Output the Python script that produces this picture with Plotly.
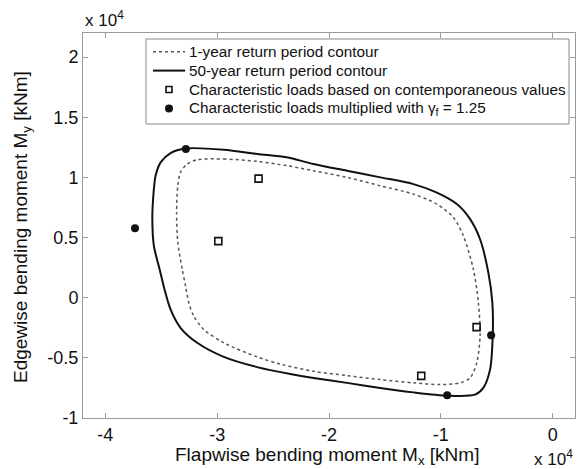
import plotly.graph_objects as go

# 50-year return period contour (x in 1e4 kNm, y in 1e4 kNm)
c50_x = [-3.28, -2.94, -2.64, -2.38, -2.14, -1.84, -1.54, -1.245, -1.04, -0.857, -0.738, -0.649,
         -0.575, -0.539, -0.536, -0.56, -0.62, -0.694, -0.94, -1.245, -1.542, -1.839, -2.138,
         -2.346, -2.643, -2.941, -3.179, -3.328, -3.417, -3.471, -3.515, -3.566, -3.58, -3.571,
         -3.551, -3.506, -3.417, -3.28]
c50_y = [1.24, 1.23, 1.194, 1.167, 1.111, 1.055, 1.0, 0.944, 0.875, 0.778, 0.653, 0.486,
         0.208, -0.042, -0.32, -0.598, -0.75, -0.806, -0.814, -0.787, -0.75, -0.708, -0.668,
         -0.635, -0.577, -0.492, -0.375, -0.25, -0.0975, 0.069, 0.236, 0.43, 0.653, 0.847,
         1.013, 1.125, 1.2025, 1.24]

# 1-year return period contour
c1_x = [-3.179, -2.941, -2.643, -2.375, -2.138, -1.839, -1.542, -1.245, -1.036, -0.8875, -0.798,
        -0.709, -0.664, -0.649, -0.679, -0.738, -0.828, -1.006, -1.245, -1.542, -1.839, -2.138,
        -2.435, -2.643, -2.941, -3.12, -3.209, -3.254, -3.283, -3.3125, -3.352, -3.363, -3.352,
        -3.328, -3.268, -3.179]
c1_y = [1.147, 1.1525, 1.133, 1.097, 1.055, 1.0, 0.93, 0.861, 0.778, 0.667, 0.513,
        0.236, -0.042, -0.32, -0.542, -0.667, -0.708, -0.7225, -0.708, -0.681, -0.6475, -0.612,
        -0.552, -0.492, -0.375, -0.264, -0.153, -0.042, 0.097, 0.236, 0.458, 0.708, 0.93,
        1.042, 1.111, 1.147]

# Characteristic loads based on contemporaneous values
sq_x = [-2.63, -2.99, -0.68, -1.175]
sq_y = [0.99, 0.47, -0.245, -0.65]

# Characteristic loads multiplied with gamma_f = 1.25
ci_x = [-3.28, -3.735, -0.55, -0.943]
ci_y = [1.236, 0.578, -0.312, -0.81]

x_ticks = [-4, -3, -2, -1, 0]
y_ticks = [-1, -0.5, 0, 0.5, 1, 1.5, 2]

legend_labels = ["1-year return period contour",
                 "50-year return period contour",
                 "Characteristic loads based on contemporaneous values",
                 "Characteristic loads multiplied with γ<sub>f</sub> = 1.25"]

FONT = "Liberation Sans, Arial, sans-serif"
INK = "#111111"

# plot area in page pixels (page body has an 8px margin)
PL, PR, PT, PB = 83, 575, 33, 418


def px(x):
    return (x - PL) / (PR - PL)


def py(y):
    return (PB - y) / (PB - PT)


fig = go.Figure()
fig.add_trace(go.Scatter(x=c1_x, y=c1_y, mode="lines", name=legend_labels[0],
                         line=dict(color="#555555", width=1.5, dash="dot", shape="spline", smoothing=0.8)))
fig.add_trace(go.Scatter(x=c50_x, y=c50_y, mode="lines", name=legend_labels[1],
                         line=dict(color=INK, width=2, shape="spline", smoothing=0.8)))
fig.add_trace(go.Scatter(x=sq_x, y=sq_y, mode="markers", name=legend_labels[2],
                         marker=dict(symbol="square-open", size=7, color=INK, line=dict(width=1.6))))
fig.add_trace(go.Scatter(x=ci_x, y=ci_y, mode="markers", name=legend_labels[3],
                         marker=dict(symbol="circle", size=8, color=INK)))

axis_common = dict(showgrid=False, zeroline=False, showline=True, linecolor="#9a9a9a", linewidth=1,
                   mirror="ticks", ticks="inside", ticklen=5, tickcolor="#9a9a9a", automargin=False,
                   tickfont=dict(size=18, color=INK, family=FONT))

fig.update_layout(
    width=576, height=461,
    margin=dict(l=PL - 8, r=584 - PR, t=PT - 8, b=469 - PB),
    paper_bgcolor="white", plot_bgcolor="white",
    font=dict(family=FONT, color=INK),
    showlegend=False,
    xaxis=dict(range=[-4.2, 0.2], tickvals=x_ticks, ticktext=[str(v) for v in x_ticks], **axis_common),
    yaxis=dict(range=[-1, 2.2], tickvals=y_ticks, ticktext=[f"{v:g}" for v in y_ticks], **axis_common),
)

# legend box drawn by hand to match the compact row spacing of the original
row_y = [51.7, 70.6, 89.5, 108.4]
fig.add_shape(type="rect", xref="paper", yref="paper", x0=px(146), x1=px(569), y0=py(124), y1=py(39),
              line=dict(color="#8a8a8a", width=1), fillcolor="white")
fig.add_shape(type="line", xref="paper", yref="paper", x0=px(153), x1=px(185), y0=py(row_y[0]), y1=py(row_y[0]),
              line=dict(color="#555555", width=1.5, dash="dot"))
fig.add_shape(type="line", xref="paper", yref="paper", x0=px(153), x1=px(185), y0=py(row_y[1]), y1=py(row_y[1]),
              line=dict(color=INK, width=2))
fig.add_shape(type="rect", xref="paper", yref="paper", xsizemode="pixel", ysizemode="pixel",
              xanchor=px(169), yanchor=py(row_y[2]), x0=-3, x1=3, y0=-3, y1=3,
              line=dict(color=INK, width=1.6), fillcolor="white")
fig.add_shape(type="circle", xref="paper", yref="paper", xsizemode="pixel", ysizemode="pixel",
              xanchor=px(169), yanchor=py(row_y[3]), x0=-4, x1=4, y0=-4, y1=4,
              line=dict(color=INK, width=0), fillcolor=INK)
for label, ry in zip(legend_labels, row_y):
    fig.add_annotation(text=label, xref="paper", yref="paper", x=px(187), y=py(ry),
                       xanchor="left", yanchor="middle", showarrow=False,
                       font=dict(size=15.3, family=FONT, color=INK))

fig.add_annotation(text="Flapwise bending moment M<sub>x</sub> [kNm]", xref="paper", yref="paper",
                   x=px(327), y=py(456), showarrow=False,
                   font=dict(size=19, family=FONT), xanchor="center", yanchor="middle")
fig.add_annotation(text="Edgewise bending moment M<sub>y</sub> [kNm]", xref="paper", yref="paper",
                   x=px(22), y=py(227), showarrow=False, textangle=-90,
                   font=dict(size=19, family=FONT), xanchor="center", yanchor="middle")
fig.add_annotation(text="x 10<sup>4</sup>", xref="paper", yref="paper",
                   x=0, y=1, xanchor="left", yanchor="bottom", showarrow=False, yshift=1,
                   font=dict(size=17, family=FONT))
fig.add_annotation(text="x 10<sup>4</sup>", xref="paper", yref="paper",
                   x=1, y=py(458), xanchor="right", yanchor="middle", showarrow=False,
                   font=dict(size=17, family=FONT))

fig.write_html("out.html")
